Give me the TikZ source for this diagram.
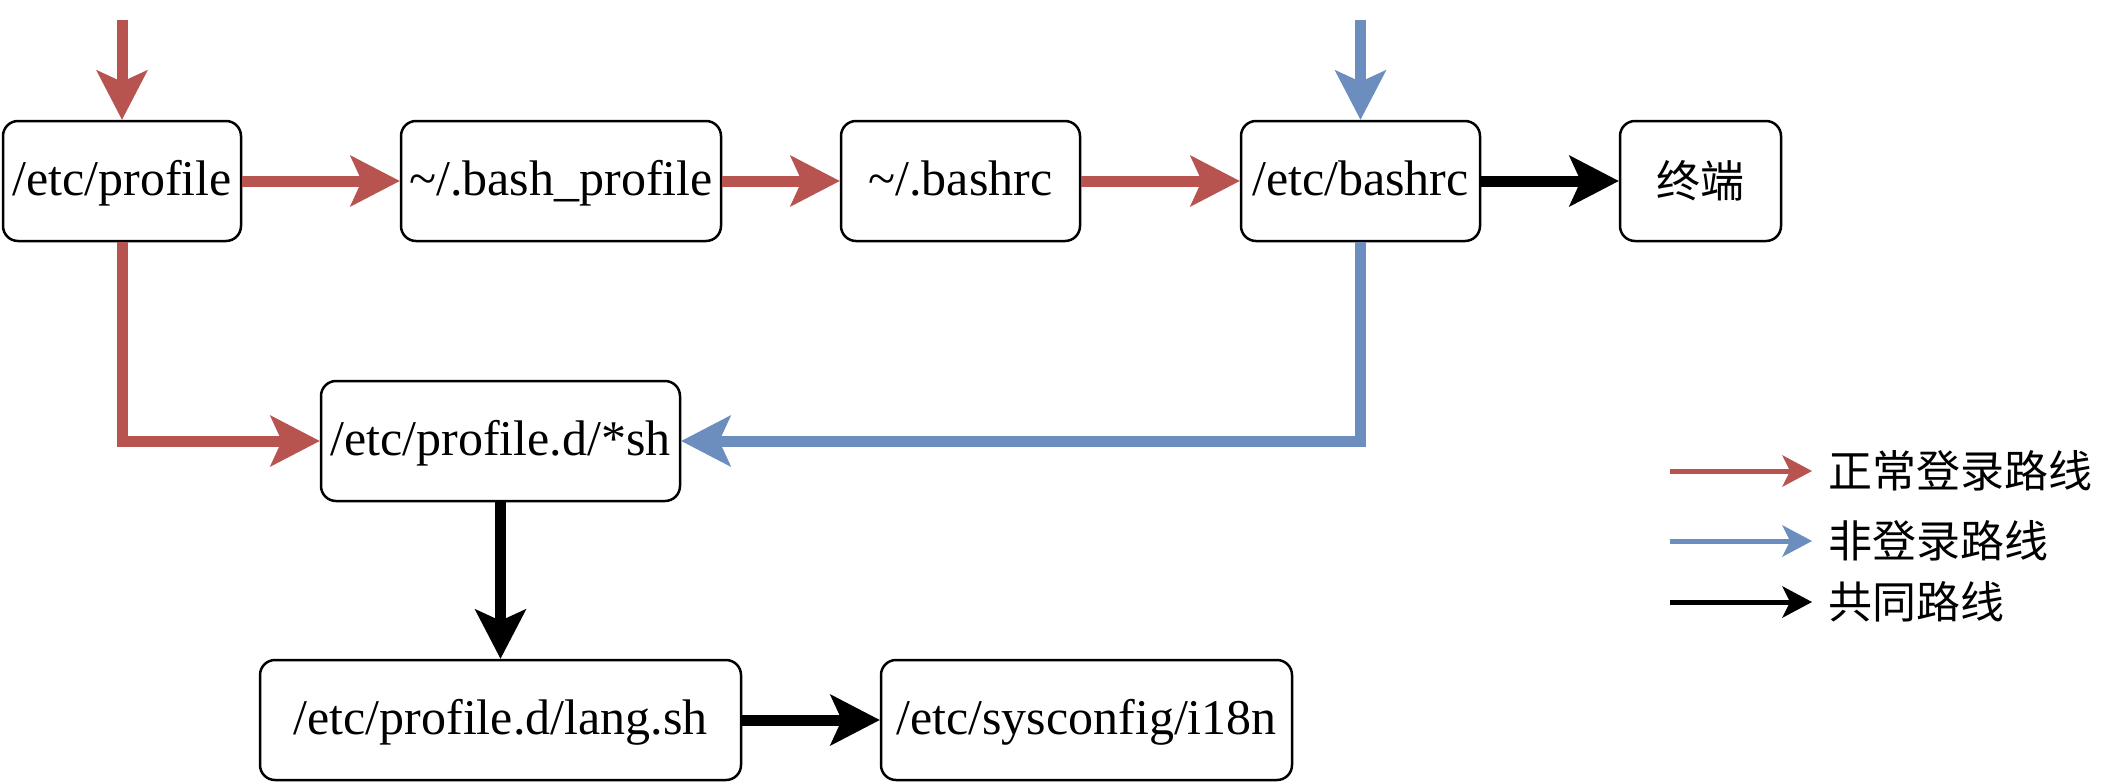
\documentclass[tikz,border=0pt]{standalone}
\usepackage{fontspec}
\setmainfont{Liberation Serif}
\newfontfamily\cjkfont{Noto Sans CJK SC}
\usetikzlibrary{arrows.meta,positioning}
\definecolor{loginRed}{RGB}{184,84,80}
\definecolor{nonloginBlue}{RGB}{108,142,191}

\begin{document}
\begin{tikzpicture}[x=1pt,y=-1pt,
    file/.style={draw, line width=2.5pt, rounded corners=15pt, minimum height=120pt,
      inner sep=0pt, text height=40pt, text depth=12pt, font=\fontsize{50}{60}\selectfont},
    flow/.style={line width=11pt, -{Stealth[length=50pt,width=52pt,inset=12pt,line width=0pt]}},
    key/.style={line width=5pt, -{Stealth[length=30pt,width=32pt,inset=8pt,line width=0pt]}},
    keytext/.style={anchor=west, inner sep=0pt, font=\cjkfont\fontsize{44}{52}\selectfont}]
    \useasboundingbox (0,0) rectangle (2112,782);

    % top row: login chain
    \node[file, minimum width=238pt] (profile) at (122,181) {/etc/profile};
    \node[file, minimum width=320pt] (bashprofile) at (561,181) {\textasciitilde/.bash\_profile};
    \node[file, minimum width=239pt] (bashrc) at (960.5,181) {\textasciitilde/.bashrc};
    \node[file, minimum width=239pt] (etcbashrc) at (1360.5,181) {/etc/bashrc};
    \node[file, minimum width=161pt, text height=38pt, text depth=6pt,
      font=\cjkfont\fontsize{44}{52}\selectfont] (terminal) at (1700.5,181) {终端};

    % lower rows
    \node[file, minimum width=359pt] (profiled) at (500.5,441) {/etc/profile.d/*sh};
    \node[file, minimum width=481pt] (langsh) at (500.5,720) {/etc/profile.d/lang.sh};
    \node[file, minimum width=411pt] (i18n) at (1086.5,720) {/etc/sysconfig/i18n};

    % entry points
    \coordinate (loginIn) at (122,20);
    \coordinate (shellIn) at (1360.5,20);

    % normal login path
    \draw[flow, loginRed] (loginIn) -- (profile.north);
    \draw[flow, loginRed] (profile.east) -- (bashprofile.west);
    \draw[flow, loginRed] (bashprofile.east) -- (bashrc.west);
    \draw[flow, loginRed] (bashrc.east) -- (etcbashrc.west);
    \draw[flow, loginRed] (profile.south) |- (profiled.west);

    % non-login path
    \draw[flow, nonloginBlue] (shellIn) -- (etcbashrc.north);
    \draw[flow, nonloginBlue] (etcbashrc.south) |- (profiled.east);

    % shared path
    \draw[flow] (etcbashrc.east) -- (terminal.west);
    \draw[flow] (profiled.south) -- (langsh.north);
    \draw[flow] (langsh.east) -- (i18n.west);

    % legend
    \coordinate (keyRedA) at (1670,471);
    \coordinate (keyRedB) at (1812,471);
    \coordinate (keyBlueA) at (1670,541);
    \coordinate (keyBlueB) at (1812,541);
    \coordinate (keyBlackA) at (1670,602);
    \coordinate (keyBlackB) at (1812,602);
    \draw[key, loginRed] (keyRedA) -- (keyRedB);
    \draw[key, nonloginBlue] (keyBlueA) -- (keyBlueB);
    \draw[key] (keyBlackA) -- (keyBlackB);
    \node[keytext] (keyRed) at (1828,471) {正常登录路线};
    \node[keytext] (keyBlue) at (1828,541) {非登录路线};
    \node[keytext] (keyBlack) at (1828,602) {共同路线};
  \end{tikzpicture}
\end{document}
